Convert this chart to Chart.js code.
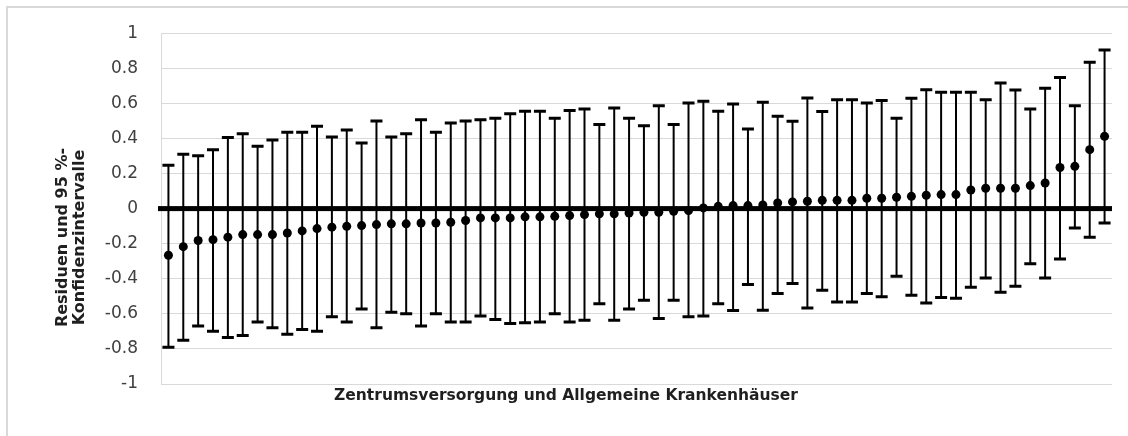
<!DOCTYPE html>
<html><head><meta charset="utf-8">
<script src="https://cdn.jsdelivr.net/npm/chart.js@4.4.1/dist/chart.umd.min.js"></script>
<style>html,body{margin:0;padding:0;background:#fff;}canvas{display:block;}</style>
</head><body>
<canvas id="c" width="1128" height="436"></canvas>
<script>
const categories = ["1","2","3","4","5","6","7","8","9","10","11","12","13","14","15","16","17","18","19","20","21","22","23","24","25","26","27","28","29","30","31","32","33","34","35","36","37","38","39","40","41","42","43","44","45","46","47","48","49","50","51","52","53","54","55","56","57","58","59","60","61","62","63","64"];
const residuals = [-0.266,-0.217,-0.182,-0.177,-0.163,-0.148,-0.148,-0.148,-0.139,-0.127,
  -0.114,-0.106,-0.101,-0.097,-0.091,-0.087,-0.087,-0.082,-0.082,-0.078,
  -0.068,-0.053,-0.053,-0.053,-0.047,-0.047,-0.044,-0.040,-0.034,-0.030,
  -0.030,-0.025,-0.021,-0.021,-0.015,-0.011,0.004,0.013,0.017,0.017,
  0.021,0.032,0.038,0.042,0.047,0.047,0.047,0.059,0.059,0.065,
  0.070,0.076,0.080,0.080,0.106,0.116,0.116,0.116,0.131,0.146,
  0.234,0.241,0.336,0.412];
const upper = [0.247,0.310,0.302,0.336,0.405,0.427,0.355,0.391,0.435,0.435,
  0.469,0.408,0.448,0.374,0.500,0.408,0.427,0.507,0.435,0.488,
  0.500,0.507,0.515,0.541,0.555,0.555,0.515,0.560,0.568,0.479,
  0.574,0.515,0.473,0.587,0.479,0.602,0.612,0.555,0.596,0.454,
  0.606,0.526,0.498,0.631,0.553,0.621,0.621,0.602,0.617,0.515,
  0.629,0.678,0.663,0.663,0.663,0.621,0.716,0.676,0.568,0.686,
  0.748,0.587,0.834,0.904];
const lower = [-0.790,-0.750,-0.670,-0.699,-0.735,-0.724,-0.646,-0.680,-0.716,-0.689,
  -0.699,-0.617,-0.646,-0.572,-0.680,-0.591,-0.600,-0.670,-0.600,-0.646,
  -0.646,-0.613,-0.632,-0.655,-0.651,-0.646,-0.600,-0.646,-0.636,-0.543,
  -0.636,-0.572,-0.522,-0.627,-0.522,-0.617,-0.613,-0.543,-0.581,-0.433,
  -0.579,-0.484,-0.427,-0.566,-0.465,-0.532,-0.532,-0.484,-0.503,-0.386,
  -0.494,-0.538,-0.507,-0.511,-0.448,-0.395,-0.477,-0.443,-0.315,-0.395,
  -0.287,-0.110,-0.163,-0.082];
const yTickLabels = ["-1","-0.8","-0.6","-0.4","-0.2","0","0.2","0.4","0.6","0.8","1"];
const xAxisTitle = "Zentrumsversorgung und Allgemeine Krankenhäuser";
const yAxisTitle = ["Residuen und 95 %-", "Konfidenzintervalle"];

const decor = {
  id: 'decor',
  beforeDraw(chart) {
    const ctx = chart.ctx;
    ctx.save();
    ctx.fillStyle = '#fff';
    ctx.fillRect(0, 0, chart.width, chart.height);
    ctx.strokeStyle = '#d9d9d9';
    ctx.lineWidth = 2;
    ctx.beginPath();
    ctx.moveTo(7, chart.height);
    ctx.lineTo(7, 7);
    ctx.lineTo(chart.width, 7);
    ctx.stroke();
    ctx.restore();
  },
  beforeDatasetsDraw(chart) {
    const { ctx, scales: { x, y }, chartArea: a } = chart;
    ctx.save();
    const y0 = y.getPixelForValue(0);
    ctx.fillStyle = '#000';
    ctx.fillRect(a.left - 3, y0 - 2.5, a.right - a.left + 3, 5);
    ctx.strokeStyle = '#000';
    for (let i = 0; i < categories.length; i++) {
      const px = x.getPixelForValue(i);
      const yt = y.getPixelForValue(upper[i]);
      const yb = y.getPixelForValue(lower[i]);
      ctx.lineWidth = 2;
      ctx.beginPath(); ctx.moveTo(px, yt); ctx.lineTo(px, yb); ctx.stroke();
      ctx.lineWidth = 3;
      ctx.beginPath();
      ctx.moveTo(px - 6, yt); ctx.lineTo(px + 6, yt);
      ctx.moveTo(px - 6, yb); ctx.lineTo(px + 6, yb);
      ctx.stroke();
    }
    ctx.restore();
  },
  afterDraw(chart) {
    const ctx = chart.ctx;
    ctx.save();
    ctx.fillStyle = '#1f1f1f';
    ctx.font = 'bold 15.5px "DejaVu Sans"';
    ctx.textAlign = 'center';
    ctx.textBaseline = 'alphabetic';
    ctx.fillText(xAxisTitle, 566, 400);
    ctx.font = 'bold 16px "DejaVu Sans"';
    const bases = [67, 84];
    yAxisTitle.forEach((t, k) => {
      ctx.save();
      ctx.translate(bases[k], 237.5);
      ctx.rotate(-Math.PI / 2);
      ctx.fillText(t, 0, 0);
      ctx.restore();
    });
    ctx.restore();
  }
};

new Chart(document.getElementById('c'), {
  type: 'line',
  data: {
    labels: categories,
    datasets: [{
      data: residuals,
      showLine: false,
      pointRadius: 4.5,
      pointHoverRadius: 4.5,
      pointBackgroundColor: '#000',
      pointBorderColor: '#000',
      pointBorderWidth: 0
    }]
  },
  options: {
    responsive: false,
    animation: false,
    devicePixelRatio: 1,
    layout: { padding: { left: 0, top: 33, right: 16, bottom: 0 } },
    plugins: { legend: { display: false }, tooltip: { enabled: false } },
    scales: {
      x: {
        type: 'category',
        offset: true,
        grid: { display: false },
        border: { display: false },
        ticks: { display: false },
        afterFit(s) { s.height = 52; }
      },
      y: {
        min: -1, max: 1,
        grid: { color: '#d9d9d9', lineWidth: 1, drawTicks: false },
        border: { display: true, color: '#d9d9d9', width: 1 },
        ticks: {
          stepSize: 0.2,
          padding: 23,
          color: '#404040',
          font: { family: 'DejaVu Sans', size: 17 },
          callback: (v, i) => yTickLabels[i]
        },
        afterFit(s) { s.width = 161; }
      }
    }
  },
  plugins: [decor]
});
</script>
</body></html>
